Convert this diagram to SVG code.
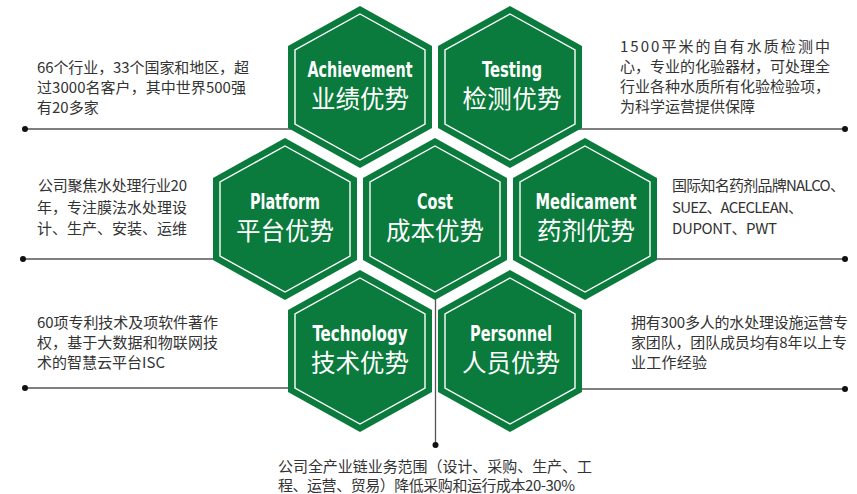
<svg xmlns="http://www.w3.org/2000/svg" width="857" height="494" viewBox="0 0 857 494">
<style>
.hex{fill:#0a7b3c}
.inner{fill:none;stroke:#ffffff;stroke-width:1.4}
.en{font-family:"Liberation Sans Narrow","DejaVu Sans Condensed","Liberation Sans",sans-serif;font-weight:bold;font-size:21px;fill:#ffffff;text-anchor:middle}
.zh{font-family:"Noto Sans CJK SC",sans-serif;font-size:24.5px;fill:#ffffff;text-anchor:middle}
.desc{font-family:"Noto Sans CJK SC",sans-serif;font-size:15px;fill:#333333}
.line{stroke:#555555;stroke-width:1.3;fill:none}
.dot{fill:#111111}
</style>
<defs>
<polygon id="outer" points="0,-81 72,-41 72,41 0,81 -72,41 -72,-41"/>
<polygon id="in" points="0,-73 65,-37 65,37 0,73 -65,37 -65,-37"/>
</defs>
<rect width="857" height="494" fill="#ffffff"/>
<g id="connectors">
<line class="line" x1="25" y1="129" x2="300" y2="129"/>
<circle class="dot" cx="25" cy="129" r="3"/>
<line class="line" x1="570" y1="129" x2="845" y2="129"/>
<circle class="dot" cx="845" cy="129" r="3"/>
<line class="line" x1="23" y1="259" x2="225" y2="259"/>
<circle class="dot" cx="23" cy="259" r="3"/>
<line class="line" x1="645" y1="259" x2="845" y2="259"/>
<circle class="dot" cx="845" cy="259" r="3"/>
<line class="line" x1="25" y1="388" x2="300" y2="388"/>
<circle class="dot" cx="25" cy="388" r="3"/>
<line class="line" x1="570" y1="389" x2="845" y2="389"/>
<circle class="dot" cx="845" cy="389" r="3"/>
<line class="line" x1="435.5" y1="290" x2="435.5" y2="445"/>
<circle class="dot" cx="435.5" cy="445" r="3"/>
</g>
<g id="achievement" transform="translate(360,87)">
<use href="#outer" class="hex"/><use href="#in" class="inner"/>
<text class="en" x="0" y="-10" textLength="105" lengthAdjust="spacingAndGlyphs">Achievement</text>
<text class="zh" x="0" y="21" textLength="98">业绩优势</text>
</g>
<g id="testing" transform="translate(510,87)">
<use href="#outer" class="hex"/><use href="#in" class="inner"/>
<text class="en" x="2" y="-10" textLength="60" lengthAdjust="spacingAndGlyphs">Testing</text>
<text class="zh" x="2" y="21" textLength="99">检测优势</text>
</g>
<g id="platform" transform="translate(285,219)">
<use href="#outer" class="hex"/><use href="#in" class="inner"/>
<text class="en" x="0" y="-10" textLength="70" lengthAdjust="spacingAndGlyphs">Platform</text>
<text class="zh" x="0" y="21" textLength="98">平台优势</text>
</g>
<g id="cost" transform="translate(435,219)">
<use href="#outer" class="hex"/><use href="#in" class="inner"/>
<text class="en" x="0" y="-10" textLength="36" lengthAdjust="spacingAndGlyphs">Cost</text>
<text class="zh" x="0" y="21" textLength="98">成本优势</text>
</g>
<g id="medicament" transform="translate(585,219)">
<use href="#outer" class="hex"/><use href="#in" class="inner"/>
<text class="en" x="1" y="-10" textLength="101" lengthAdjust="spacingAndGlyphs">Medicament</text>
<text class="zh" x="1" y="21" textLength="98">药剂优势</text>
</g>
<g id="technology" transform="translate(360,351)">
<use href="#outer" class="hex"/><use href="#in" class="inner"/>
<text class="en" x="0" y="-10" textLength="95" lengthAdjust="spacingAndGlyphs">Technology</text>
<text class="zh" x="0" y="21" textLength="98">技术优势</text>
</g>
<g id="personnel" transform="translate(510,351)">
<use href="#outer" class="hex"/><use href="#in" class="inner"/>
<text class="en" x="1" y="-10" textLength="82" lengthAdjust="spacingAndGlyphs">Personnel</text>
<text class="zh" x="1" y="21" textLength="98">人员优势</text>
</g>
<g id="desc-achievement" class="desc">
<text x="37" y="73" textLength="212">66个行业，33个国家和地区，超</text>
<text x="37" y="93" textLength="209">过3000名客户，其中世界500强</text>
<text x="37" y="113">有20多家</text>
</g>
<g id="desc-testing" class="desc">
<text x="620" y="52" textLength="210">1500平米的自有水质检测中</text>
<text x="620" y="72" textLength="210">心，专业的化验器材，可处理全</text>
<text x="620" y="92" textLength="210">行业各种水质所有化验检验项，</text>
<text x="620" y="112">为科学运营提供保障</text>
</g>
<g id="desc-platform" class="desc">
<text x="38" y="191" textLength="149">公司聚焦水处理行业20</text>
<text x="37" y="213" textLength="150">年，专注膜法水处理设</text>
<text x="37" y="234" textLength="150">计、生产、安装、运维</text>
</g>
<g id="desc-medicament" class="desc">
<text x="672" y="191" textLength="173">国际知名药剂品牌NALCO、</text>
<text x="672" y="213" textLength="131">SUEZ、ACECLEAN、</text>
<text x="672" y="234" textLength="105">DUPONT、PWT</text>
</g>
<g id="desc-technology" class="desc">
<text x="37" y="328" textLength="181">60项专利技术及项软件著作</text>
<text x="37" y="348" textLength="181">权，基于大数据和物联网技</text>
<text x="37" y="368" textLength="128">术的智慧云平台ISC</text>
</g>
<g id="desc-personnel" class="desc">
<text x="631" y="328" textLength="217">拥有300多人的水处理设施运营专</text>
<text x="631" y="348" textLength="216">家团队，团队成员均有8年以上专</text>
<text x="631" y="368" textLength="76">业工作经验</text>
</g>
<g id="desc-cost" class="desc">
<text x="278" y="472" textLength="314">公司全产业链业务范围（设计、采购、生产、工</text>
<text x="278" y="491" textLength="297">程、运营、贸易）降低采购和运行成本20-30%</text>
</g>
</svg>
